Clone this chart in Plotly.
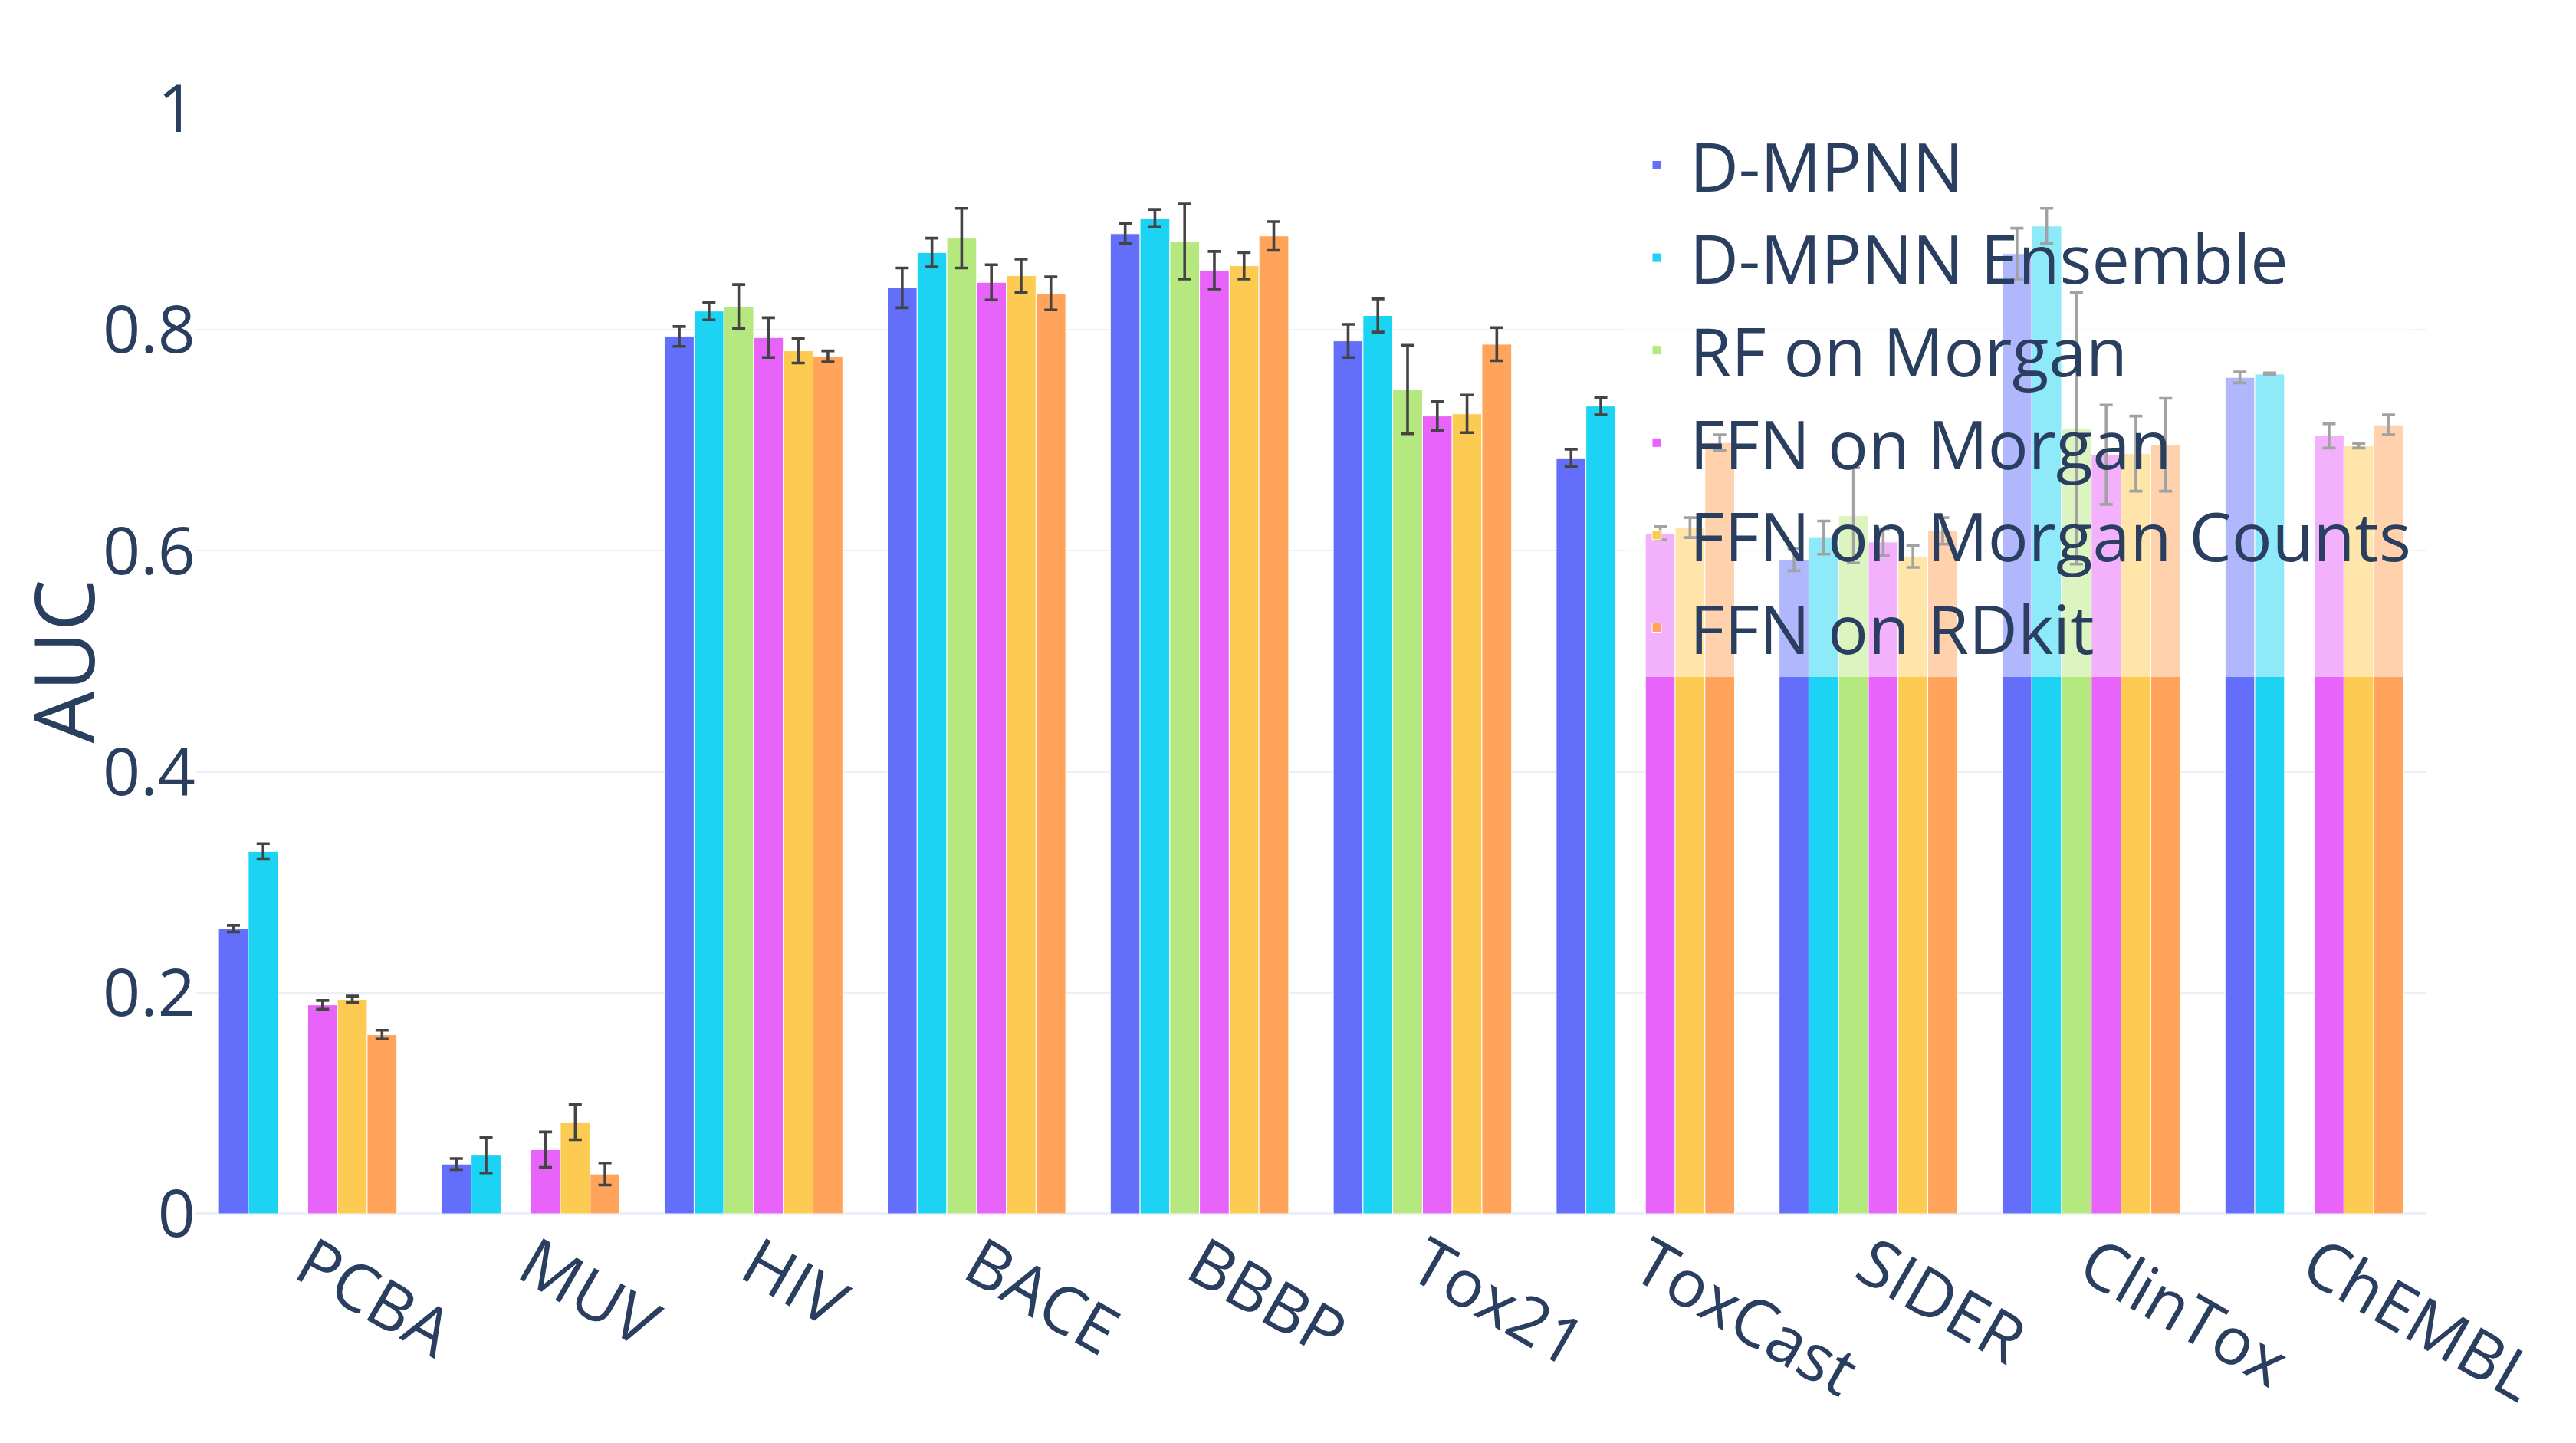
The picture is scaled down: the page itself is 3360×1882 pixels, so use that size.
import plotly.graph_objects as go

categories = ['PCBA', 'MUV', 'HIV', 'BACE', 'BBBP', 'Tox21', 'ToxCast', 'SIDER', 'ClinTox', 'ChEMBL']

series_names = ['D-MPNN', 'D-MPNN Ensemble', 'RF on Morgan', 'FFN on Morgan',
                'FFN on Morgan Counts', 'FFN on RDkit']

dmpnn = [0.258, 0.045, 0.794, 0.838, 0.887, 0.790, 0.684, 0.592, 0.869, 0.757]
dmpnn_err = [0.003, 0.005, 0.009, 0.018, 0.009, 0.015, 0.008, 0.010, 0.023, 0.005]
ensemble = [0.328, 0.053, 0.817, 0.870, 0.901, 0.813, 0.731, 0.612, 0.894, 0.760]
ensemble_err = [0.007, 0.016, 0.008, 0.013, 0.008, 0.015, 0.008, 0.015, 0.016, 0.001]
rf_morgan = [None, None, 0.821, 0.883, 0.880, 0.746, None, 0.632, 0.711, None]
rf_morgan_err = [None, None, 0.020, 0.027, 0.034, 0.040, None, 0.043, 0.123, None]
ffn_morgan = [0.189, 0.058, 0.793, 0.843, 0.854, 0.722, 0.616, 0.608, 0.687, 0.704]
ffn_morgan_err = [0.004, 0.016, 0.018, 0.016, 0.017, 0.013, 0.006, 0.012, 0.045, 0.011]
ffn_counts = [0.194, 0.083, 0.781, 0.849, 0.858, 0.724, 0.621, 0.595, 0.688, 0.695]
ffn_counts_err = [0.003, 0.016, 0.011, 0.015, 0.012, 0.017, 0.009, 0.010, 0.034, 0.002]
ffn_rdkit = [0.162, 0.036, 0.776, 0.833, 0.885, 0.787, 0.698, 0.618, 0.696, 0.714]
ffn_rdkit_err = [0.004, 0.010, 0.005, 0.015, 0.013, 0.015, 0.007, 0.012, 0.042, 0.009]

colors = ['#636EFA', '#1CD3F3', '#B6E880', '#E763FA', '#FECB52', '#FFA45A']

y_tickvals = [0, 0.2, 0.4, 0.6, 0.8, 1]
y_ticktext = ['0', '0.2', '0.4', '0.6', '0.8', '1']

values = [dmpnn, ensemble, rf_morgan, ffn_morgan, ffn_counts, ffn_rdkit]
errors = [dmpnn_err, ensemble_err, rf_morgan_err, ffn_morgan_err, ffn_counts_err, ffn_rdkit_err]

FONT = 'Open Sans, verdana, arial, sans-serif'

fig = go.Figure()
for name, vals, errs, col in zip(series_names, values, errors, colors):
    fig.add_trace(go.Bar(
        name=name, x=categories, y=vals,
        legendgroup=name,
        marker=dict(color=col, line=dict(color='white', width=1)),
        error_y=dict(type='data', array=errs, visible=True,
                     color='#444444', thickness=3.6, width=8.5),
    ))

fig.update_layout(
    template='plotly_white',
    width=3352, height=1874,
    barmode='group', bargap=0.2, bargroupgap=0,
    font=dict(family=FONT, size=86, color='#2a3f5f'),
    margin=dict(l=248, r=196, t=134, b=299, autoexpand=False),
    legend=dict(x=0.6403, y=0.9932, xanchor='left', yanchor='top',
                bgcolor='rgba(255,255,255,0.5)', font=dict(size=88),
                itemwidth=76, tracegroupgap=3.2),
    xaxis=dict(tickangle=30, automargin=False, tickfont=dict(size=86)),
    yaxis=dict(range=[0, 1], tickvals=y_tickvals, ticktext=y_ticktext,
               automargin=False, tickfont=dict(size=86),
               gridcolor='#EBF0F8', gridwidth=2,
               zeroline=True, zerolinecolor='#EBF0F8', zerolinewidth=4,
               title=dict(text='AUC', font=dict(size=107.5), standoff=14)),
)

fig.write_html('out.html')
